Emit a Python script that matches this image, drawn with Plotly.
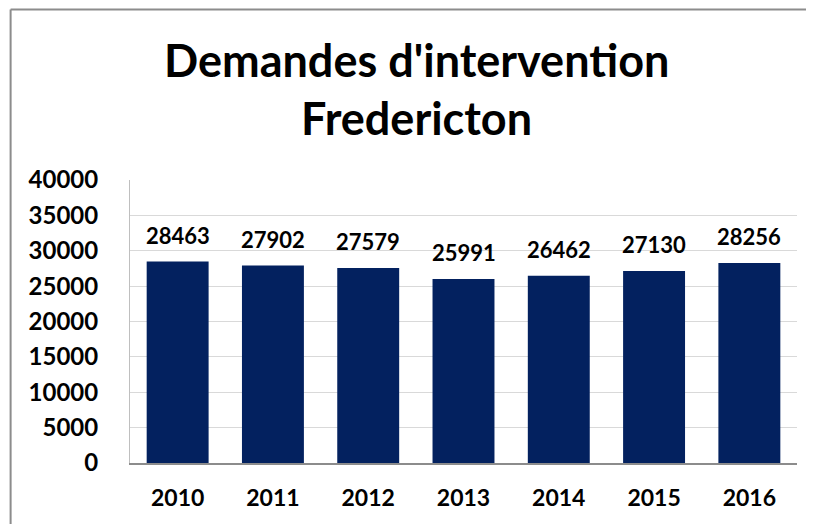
import plotly.graph_objects as go

years = ["2010", "2011", "2012", "2013", "2014", "2015", "2016"]
values = [28463, 27902, 27579, 25991, 26462, 27130, 28256]
y_ticks = [0, 5000, 10000, 15000, 20000, 25000, 30000, 35000, 40000]
title_lines = ["Demandes d'intervention", "Fredericton"]

FONT = "Lato"
BAR = "#03215F"

fig = go.Figure(go.Bar(
    x=years, y=values,
    marker=dict(color=BAR, line=dict(width=0)),
    width=0.65,
    hoverinfo="skip",
))

for i, v in enumerate(values):
    fig.add_annotation(x=i, y=v, text="<b>%d</b>" % v, showarrow=False,
                       yanchor="bottom", yshift=11,
                       font=dict(family=FONT, size=22, color="black"))

fig.add_annotation(xref="paper", yref="paper", x=0.430, y=1.424, text="<b>%s</b>" % title_lines[0],
                   showarrow=False, xanchor="center", yanchor="middle",
                   font=dict(family=FONT, size=45, color="black"))
fig.add_annotation(xref="paper", yref="paper", x=0.430, y=1.219, text="<b>%s</b>" % title_lines[1],
                   showarrow=False, xanchor="center", yanchor="middle",
                   font=dict(family=FONT, size=45, color="black"))

# chart border (left and top edges)
fig.add_shape(type="line", xref="paper", yref="paper", x0=-0.179, x1=-0.179, y0=-0.3, y1=1.6025,
              line=dict(color="#8C8C8C", width=2))
fig.add_shape(type="line", xref="paper", yref="paper", x0=-0.179, x1=1.1, y0=1.6025, y1=1.6025,
              line=dict(color="#8C8C8C", width=2))

fig.update_layout(
    width=806, height=516,
    margin=dict(l=122, r=17, t=172, b=61),
    paper_bgcolor="white", plot_bgcolor="white",
    showlegend=False,
    xaxis=dict(
        type="category",
        range=[-0.5, 6.5],
        showline=True, linecolor="#8C8C8C", linewidth=2,
        showgrid=False, ticks="",
        tickfont=dict(family=FONT, size=23, color="black", weight="bold"),
        ticklabelstandoff=13,
        automargin=False,
    ),
    yaxis=dict(
        range=[0, 40000],
        tickvals=y_ticks,
        ticktext=[str(t) for t in y_ticks],
        showline=True, linecolor="#BFBFBF", linewidth=1,
        showgrid=True, gridcolor="#D9D9D9", gridwidth=1,
        zeroline=False, ticks="",
        tickfont=dict(family=FONT, size=24, color="black", weight="bold"),
        ticklabelstandoff=26,
        automargin=False,
    ),
)

fig.write_html("out.html", config={"displayModeBar": False})
